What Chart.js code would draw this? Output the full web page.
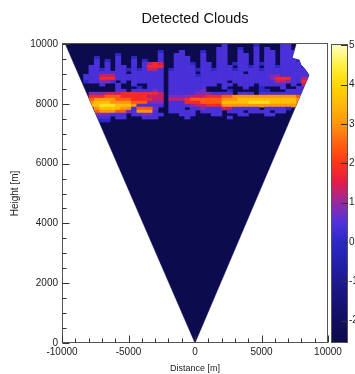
<!DOCTYPE html>
<html><head><meta charset="utf-8">
<style>html,body{margin:0;padding:0;background:#fff;overflow:hidden}</style>
<script src="https://cdn.jsdelivr.net/npm/chart.js@4.4.1/dist/chart.umd.min.js"></script>
</head><body>
<canvas id="c" width="355" height="374"></canvas>
<script>
// ---------- data ----------
const wedgeX = [-9750, 0, 8577, 8427, 8202, 7978, 7828, 7303, 7603];
const wedgeH = [10000, 0, 8960, 9060, 9195, 9295, 9463, 9530, 10000];

const xTickValues = [-10000, -5000, 0, 5000, 10000];
const xMinorValues = [-9000,-8000,-7000,-6000,-4000,-3000,-2000,-1000,1000,2000,3000,4000,6000,7000,8000,9000];
const yTickValues = [0, 2000, 4000, 6000, 8000, 10000];
const yMinorValues = [500,1000,1500,2500,3000,3500,4500,5000,5500,6500,7000,7500,8500,9000,9500];
const zTickValues = [-2, -1, 0, 1, 2, 3, 4, 5];
const zRange = [-2.57, 5.03];

// cloud grid: 50 columns of 400 m starting at -10000 m, 26 rows of 100 m from 10000 m downward
const cellStartX = -10000, cellWidth = 400, topHeight = 10000, cellHeight = 100;
const codeValues = {a:-1.2, b:0, c:0.4, d:0.8, e:1.3, f:1.8, g:2.4, h:3.0, i:3.6, j:4.2, k:4.8};
const cloudRows = [
  ["..........","..........","..........","c.....b...",".cc......."],
  ["..........","..........",".........c","c..b..c.c.",".cc......."],
  ["..........","........b.","..c...b..c","c..c..c.cc",".ccc......"],
  ["..........","b.......c.",".cc...c..c","c..cc.c.cc",".ccc......"],
  ["......b...","c..b....c.",".ccc..c..c","c..cc.c.cc",".ccc......"],
  ["......c.b.","c..c.b..c.",".ccc..c..c","c..cc.c.cc",".cccb....."],
  ["......c.c.","c..c.cefe.",".cccb.cc.c","c.bcc.cbcc",".cccc....."],
  [".....cc.c.","cc.c.cfff.",".cccc.cc.c","cc.ccbc.cc","bccccb...."],
  [".....ccbc.","ccbcbceec.","bccccbccbc","ccbccccbcc","cccccc...."],
  [".....ccccc","cc.cccccc.","ccccc.cccc","cccc.ccccc","ccccccc..."],
  ["....ccceee","ccccccccc.","cccccbcccc","cccccccccd","dcccccc..."],
  ["....cccfff","ccccccccc.","cccccccccc","cccccccccd","fffccec..."],
  ["....bccddc",".c.cccccc.","cccccccccc","c.cccccccc","eedccfc..."],
  [".......c..","c..c..ccc.","ccccccccc.","cc.ccc.ccc","cc.c.ec..."],
  ["..........","c...b.ccc.","ccccccc...","c...c..b..",".c..cc...."],
  ["..........","cc.ccccdc.","ccccccd...",".b.....bb.","..ccc....."],
  [".....dddee","efffffffe.","cccccdddcc","cc.ccc.ccc","ccccc....."],
  [".....fffgg","gfffffeee.","ddddeeefff","gghhhhhhhh","hhhhg....."],
  [".....ghhhh","gggffffee.","eeefgggggg","hhhiiiiiii","iiiih....."],
  [".....hiiih","hhhgggddd.","cccfffgggg","iiiiijjjji","iiiih....."],
  [".....iijjj","iiihccccc.","ccccdeefff","hhhhhhhhhh","hhhhg....."],
  ["......hiii","ihhcgggd..","ccc.ccdccc","eeccccc.cc","ccb......."],
  ["......ghhh","ggdchhhc..","ccccc.cccc",".ccc.cccc.","cc........"],
  ["......dddc","cc.ccddcc.","..ccc...cc","...cc...cc",".........."],
  ["......ccc.","cc...ccc..","...c......",".c........",".........."],
  [".......bb.","..........","..........","..........",".........."]
].map(r => r.join(''));

// ---------- style ----------
const paletteStops = [
  [-2.57,'#0b0a4c'],[-2,'#110e60'],[-1,'#1d1990'],[0,'#2c28c8'],[0.5,'#5232dc'],
  [1,'#962aa0'],[1.5,'#e21a4a'],[2,'#ff3418'],[2.5,'#ff6210'],[3,'#ff9510'],
  [3.5,'#ffb808'],[4,'#ffd800'],[4.5,'#fff040'],[5.03,'#ffffc8']
];
const FONT = "'Liberation Sans', Arial, sans-serif";
const wedgeColor = '#0c0b4e';

function hexToRgb(h){return [parseInt(h.slice(1,3),16),parseInt(h.slice(3,5),16),parseInt(h.slice(5,7),16)];}
function colorFor(v){
  const s = paletteStops;
  if (v <= s[0][0]) return s[0][1];
  for (let k=1;k<s.length;k++){
    if (v <= s[k][0]){
      const t=(v-s[k-1][0])/(s[k][0]-s[k-1][0]);
      const a=hexToRgb(s[k-1][1]), b=hexToRgb(s[k][1]);
      return 'rgb('+a.map((c,i)=>Math.round(c+(b[i]-c)*t)).join(',')+')';
    }
  }
  return s[s.length-1][1];
}

function wedgePath(ctx, xs, ys){
  ctx.beginPath();
  wedgeX.forEach((vx,i)=>{
    const px=xs.getPixelForValue(vx), py=ys.getPixelForValue(wedgeH[i]);
    if(i===0) ctx.moveTo(px,py); else ctx.lineTo(px,py);
  });
  ctx.closePath();
}

const heatPlugin = {
  id:'heat',
  afterDatasetsDraw(chart){
    const {ctx, chartArea:a, scales:{x,y}} = chart;
    ctx.save();
    ctx.beginPath(); ctx.rect(a.left,a.top,a.right-a.left,a.bottom-a.top); ctx.clip();
    wedgePath(ctx,x,y); ctx.clip();
    cloudRows.forEach((row,r)=>{
      const hTop=topHeight-r*cellHeight, hBot=hTop-cellHeight;
      const py0=y.getPixelForValue(hTop), py1=y.getPixelForValue(hBot);
      for(let i=0;i<row.length;i++){
        const code=row[i];
        if(!(code in codeValues)) continue;
        const x0=x.getPixelForValue(cellStartX+i*cellWidth), x1=x.getPixelForValue(cellStartX+(i+1)*cellWidth);
        ctx.fillStyle=colorFor(codeValues[code]);
        ctx.fillRect(x0,py0,x1-x0+0.6,py1-py0+0.6);
      }
    });
    ctx.restore();
  },
  afterDraw(chart){
    const {ctx, chartArea:a, scales:{x,y,z}} = chart;
    ctx.save();
    ctx.strokeStyle='#555'; ctx.lineWidth=1;
    ctx.strokeRect(Math.round(a.left)+0.5, Math.round(a.top)-0.5, Math.round(a.right-a.left)-1, Math.round(a.bottom-a.top));
    ctx.strokeStyle='#333';
    ctx.beginPath();
    const by=Math.round(a.bottom)-0.5, lx=Math.round(a.left)+0.5;
    xTickValues.forEach(v=>{const px=Math.round(x.getPixelForValue(v))+0.5; ctx.moveTo(px,by); ctx.lineTo(px,by-7);});
    xMinorValues.forEach(v=>{const px=Math.round(x.getPixelForValue(v))+0.5; ctx.moveTo(px,by); ctx.lineTo(px,by-4);});
    yTickValues.forEach(v=>{const py=Math.round(y.getPixelForValue(v))+0.5; ctx.moveTo(lx,py); ctx.lineTo(lx+7,py);});
    yMinorValues.forEach(v=>{const py=Math.round(y.getPixelForValue(v))+0.5; ctx.moveTo(lx,py); ctx.lineTo(lx+4,py);});
    ctx.stroke();
    const bx0=z.left+3, bx1=z.left+20;
    const yTop=z.getPixelForValue(zRange[1]), yBot=z.getPixelForValue(zRange[0]);
    const g=ctx.createLinearGradient(0,yBot,0,yTop);
    paletteStops.forEach(([v,c])=>{g.addColorStop((v-zRange[0])/(zRange[1]-zRange[0]),c);});
    ctx.fillStyle=g;
    ctx.fillRect(bx0,yTop,bx1-bx0,yBot-yTop);
    ctx.strokeStyle='#555';
    ctx.strokeRect(bx0+0.5,yTop+0.5,bx1-bx0-1,yBot-yTop-1);
    ctx.strokeStyle='#333';
    ctx.beginPath();
    zTickValues.forEach(v=>{const py=Math.round(z.getPixelForValue(v))+0.5; ctx.moveTo(bx1,py); ctx.lineTo(bx1-7,py);});
    ctx.stroke();
    ctx.restore();
  }
};

const plainLabel = v => String(v);

new Chart(document.getElementById('c'), {
  type:'scatter',
  data:{datasets:[{
    data: wedgeX.map((v,i)=>({x:v,y:wedgeH[i]})),
    showLine:true, fill:'shape', tension:0,
    backgroundColor:wedgeColor, borderColor:wedgeColor, borderWidth:0.5,
    pointRadius:0, pointHoverRadius:0
  }]},
  options:{
    responsive:false, animation:false, devicePixelRatio:1,
    layout:{padding:{left:0,right:0,top:0,bottom:0}},
    plugins:{
      legend:{display:false}, tooltip:{enabled:false},
      title:{display:true, text:'Detected Clouds', fullSize:false, color:'#111',
        font:{family:FONT,size:14.5,weight:'normal'}, padding:{top:10,bottom:16.6}}
    },
    scales:{
      x:{type:'linear', min:-10000, max:10000,
        grid:{display:false, drawTicks:false}, border:{display:false},
        ticks:{font:{family:FONT,size:10}, color:'#222', padding:3, maxRotation:0, autoSkip:false, callback:plainLabel},
        afterBuildTicks:s=>{s.ticks=xTickValues.map(v=>({value:v}));},
        afterFit:s=>{s.height=31;},
        title:{display:true, text:'Distance [m]', color:'#222', font:{family:FONT,size:9}, padding:{top:0,bottom:0}}
      },
      y:{type:'linear', min:0, max:10000,
        grid:{display:false, drawTicks:false}, border:{display:false},
        ticks:{font:{family:FONT,size:10}, color:'#222', padding:4, autoSkip:false, callback:plainLabel},
        afterBuildTicks:s=>{s.ticks=yTickValues.map(v=>({value:v}));},
        afterFit:s=>{s.width=62;},
        title:{display:true, text:'Height [m]', color:'#222', font:{family:FONT,size:10}, padding:{top:9,bottom:0}}
      },
      z:{type:'linear', position:'right', axis:'y', min:zRange[0], max:zRange[1],
        grid:{display:false, drawTicks:false}, border:{display:false},
        ticks:{font:{family:FONT,size:10}, color:'#222', padding:21, autoSkip:false, callback:plainLabel},
        afterBuildTicks:s=>{s.ticks=zTickValues.map(v=>({value:v}));},
        afterFit:s=>{s.width=27;}
      }
    }
  },
  plugins:[heatPlugin]
});
</script>
</body></html>
